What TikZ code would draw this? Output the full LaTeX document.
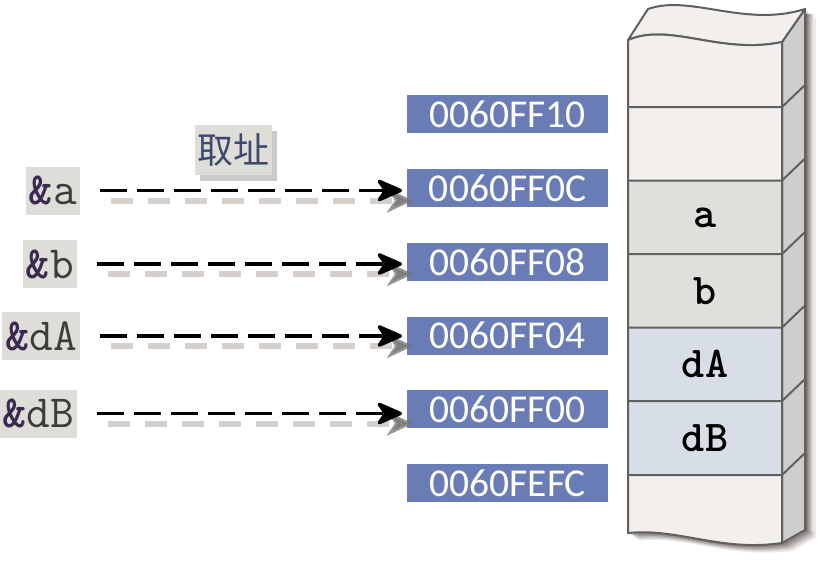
\documentclass[tikz,border=0pt]{standalone}
\usepackage{fontspec}
\newfontfamily\addrfont{Carlito}
\newfontfamily\cjk{Noto Sans CJK SC}
\usetikzlibrary{arrows.meta,shadows}
\definecolor{addrblue}{RGB}{106,124,181}
\definecolor{labelbg}{RGB}{222,221,216}
\definecolor{cellpale}{RGB}{243,239,237}
\definecolor{cellgray}{RGB}{224,224,219}
\definecolor{cellblue}{RGB}{216,222,232}
\definecolor{sidegray}{RGB}{206,206,206}
\definecolor{edgegray}{RGB}{95,96,96}
\definecolor{ampcol}{RGB}{58,42,80}
\definecolor{lettercol}{RGB}{60,60,60}
\definecolor{cjkcol}{RGB}{62,72,110}
\definecolor{dashshadow}{RGB}{200,192,188}
\definecolor{colshadow}{RGB}{90,78,70}
\tikzset{
  addrbox/.style={fill=addrblue, text=white, font=\addrfont\fontsize{39.5}{41}\selectfont,
    minimum width=201pt, minimum height=38pt, inner sep=0pt, anchor=west},
  ptrlabel/.style={fill=labelbg, font=\ttfamily\fontsize{46}{48}\selectfont,
    minimum height=48pt, inner xsep=3pt, inner ysep=0pt, anchor=east, text=lettercol},
  cellnum/.style={font=\ttfamily\bfseries\fontsize{44}{46}\selectfont, text=black},
  bigtip/.tip={Stealth[length=30pt, width=26pt, inset=9pt, round]},
  ptrarrow/.style={line width=3.5pt, dash pattern=on 27pt off 10pt, shorten <=20pt, shorten >=5pt,
    -bigtip},
  ptrshadow/.style={line width=6pt, dashshadow, opacity=.75, dash pattern=on 22pt off 15pt,
    shorten <=20pt, shorten >=5pt, -{Stealth[length=26pt,width=24pt,inset=8pt,color=gray!90!black]},
    transform canvas={shift={(11,10)}}},
  colline/.style={draw=edgegray, line width=2pt, line join=round},
}
\begin{document}
\begin{tikzpicture}[x=1pt,y=-1pt]
\useasboundingbox (0,0) rectangle (820,568);

% ---------- memory column ----------
% shadow
\foreach \s/\o in {11/0.12,9/0.15,7/0.2,5/0.25,3/0.3}{
  \fill[colshadow, opacity=\o, shift={(\s,\s*0.7)}]
    (628,40) .. controls (670,22) and (720,55) .. (782,42) -- (805,9)
    -- (805,530) -- (782,543) .. controls (720,552) and (680,528) .. (628,533) -- cycle;
}
\shade[left color=colshadow, right color=white] (804,14) rectangle (814,530);
% side face
\path[fill=sidegray, colline] (782,42) -- (805,9) -- (805,530) -- (782,543) -- cycle;
% top face
\path[fill=cellpale, colline] (628,40) .. controls (670,22) and (720,55) .. (782,42)
   -- (805,9) .. controls (745,28) and (690,-6) .. (648,9) -- cycle;
% front face
\fill[cellpale] (628,40) .. controls (670,22) and (720,55) .. (782,42)
   -- (782,543) .. controls (720,552) and (680,528) .. (628,533) -- cycle;
\fill[cellgray] (628,180.5) rectangle (782,327.5);
\fill[cellblue] (628,327.5) rectangle (782,475);
\draw[colline] (628,40) .. controls (670,22) and (720,55) .. (782,42)
   -- (782,543) .. controls (720,552) and (680,528) .. (628,533) -- cycle;
\foreach \y in {107,180.5,254,327.5,401,475}{
  \draw[colline] (628,\y) -- (782,\y) -- (805,\y-22);
}
\node[cellnum] (ca) at (705,217.5) {a};
\node[cellnum] (cb) at (705,291) {b};
\node[cellnum] (cdA) at (705,364) {dA};
\node[cellnum] (cdB) at (705,438) {dB};

% ---------- addresses ----------
\node[addrbox] (ad1) at (407,114) {0060FF10};
\node[addrbox] (ad2) at (407,188) {0060FF0C};
\node[addrbox] (ad3) at (407,262) {0060FF08};
\node[addrbox] (ad4) at (407,335.5) {0060FF04};
\node[addrbox] (ad5) at (407,409) {0060FF00};
\node[addrbox] (ad6) at (407,483) {0060FEFC};

% ---------- pointer labels ----------
\node[ptrlabel] (la) at (80,190.5) {\textcolor{ampcol}{\bfseries\&}a};
\node[ptrlabel] (lb) at (77,264) {\textcolor{ampcol}{\bfseries\&}b};
\node[ptrlabel] (ldA) at (80,336) {\textcolor{ampcol}{\bfseries\&}dA};
\node[ptrlabel] (ldB) at (77,413.5) {\textcolor{ampcol}{\bfseries\&}dB};

% ---------- 取址 ----------
\node[fill=labelbg, text=cjkcol, font=\cjk\fontsize{36}{38}\selectfont,
  minimum width=77pt, minimum height=50pt, inner sep=0pt,
  drop shadow={shadow xshift=5pt, shadow yshift=-6pt, fill=gray!70, opacity=.6}]
  (qz) at (233.5,150) {取址};

% ---------- arrows ----------
\foreach \l/\a in {la/ad2, lb/ad3, ldA/ad4, ldB/ad5}{
  \draw[ptrshadow] (\l.east) -- (\l.east -| \a.west);
  \draw[ptrarrow] (\l.east) -- (\l.east -| \a.west);
}
\end{tikzpicture}
\end{document}
